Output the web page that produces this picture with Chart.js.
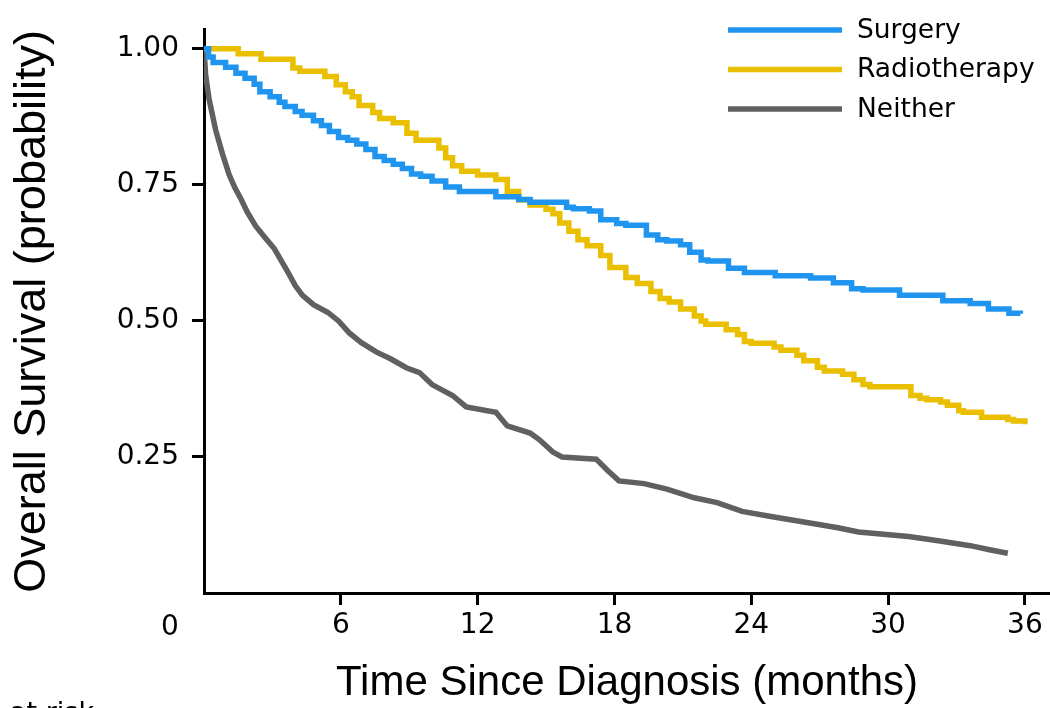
<!DOCTYPE html>
<html>
<head>
<meta charset="utf-8">
<title>Overall Survival</title>
<script src="https://cdn.jsdelivr.net/npm/chart.js@4.4.1/dist/chart.umd.min.js"></script>
<style>
  html, body { margin: 0; padding: 0; background: #fff; }
  #wrap { width: 1050px; height: 708px; }
</style>
</head>
<body>
<div id="wrap"><canvas id="kmChart" width="1050" height="708"></canvas></div>

<script>
// Kaplan-Meier curves, values (month, survival)
var surgeryMonths = [0, 0.2, 0.4, 0.95, 1.4, 1.8, 2.2, 2.45, 2.9, 3.3, 3.55, 4.0, 4.3, 4.8, 5.15, 5.5, 5.9, 6.3, 6.7, 7.1, 7.5, 7.9, 8.3, 8.7, 9.1, 9.5, 10.0, 10.6, 11.2, 12.8, 13.8, 14.3, 15.9, 16.2, 16.9, 17.4, 18.1, 18.5, 19.4, 19.9, 20.3, 20.9, 21.3, 21.8, 22.1, 23.0, 23.7, 25.05, 26.6, 27.6, 28.4, 28.9, 30.5, 32.4, 33.6, 34.4, 35.3, 35.8];
var surgerySurv   = [1.0, 0.985, 0.975, 0.966, 0.955, 0.946, 0.935, 0.921, 0.912, 0.902, 0.894, 0.885, 0.878, 0.868, 0.859, 0.848, 0.837, 0.832, 0.825, 0.815, 0.802, 0.795, 0.788, 0.78, 0.770, 0.766, 0.757, 0.746, 0.738, 0.728, 0.723, 0.718, 0.709, 0.706, 0.702, 0.686, 0.679, 0.676, 0.658, 0.649, 0.647, 0.64, 0.626, 0.612, 0.610, 0.597, 0.589, 0.583, 0.579, 0.570, 0.559, 0.557, 0.547, 0.537, 0.532, 0.522, 0.514, 0.513];

var radioMonths = [0, 1.5, 2.5, 3.9, 4.2, 5.3, 5.8, 6.2, 6.5, 6.8, 7.4, 7.7, 8.3, 8.9, 9.3, 10.3, 10.6, 10.9, 11.3, 12.0, 12.8, 13.3, 13.8, 14.3, 15.0, 15.3, 15.6, 16.0, 16.4, 16.8, 17.4, 17.8, 18.5, 19.0, 19.6, 20.0, 20.4, 20.9, 21.5, 21.8, 22.0, 22.9, 23.4, 23.7, 24.0, 25.0, 25.3, 26.0, 26.3, 26.9, 27.2, 28.0, 28.5, 28.9, 29.2, 31.0, 31.4, 31.7, 32.3, 32.6, 33.1, 33.3, 34.1, 35.25, 35.5, 36.0];
var radioSurv   = [1.0, 0.991, 0.981, 0.965, 0.959, 0.949, 0.934, 0.921, 0.912, 0.896, 0.883, 0.872, 0.864, 0.845, 0.832, 0.818, 0.800, 0.785, 0.775, 0.768, 0.760, 0.738, 0.722, 0.713, 0.705, 0.697, 0.680, 0.665, 0.649, 0.638, 0.62, 0.598, 0.58, 0.569, 0.554, 0.541, 0.535, 0.522, 0.509, 0.5, 0.494, 0.484, 0.475, 0.462, 0.459, 0.452, 0.446, 0.437, 0.427, 0.415, 0.408, 0.402, 0.392, 0.383, 0.379, 0.363, 0.358, 0.355, 0.351, 0.345, 0.335, 0.332, 0.323, 0.319, 0.316, 0.31];

var neitherMonths = [0, 0.07, 0.22, 0.51, 0.81, 1.1, 1.35, 1.61, 1.9, 2.27, 2.7, 3.08, 3.4, 3.74, 4.0, 4.32, 4.8, 5.42, 5.9, 6.37, 6.9, 7.55, 8.2, 8.87, 9.45, 10.0, 10.9, 11.5, 12.8, 13.3, 14.3, 14.7, 15.3, 15.7, 17.2, 17.7, 18.2, 19.3, 20.3, 21.5, 22.5, 23.6, 24.8, 26.5, 27.8, 28.7, 30.9, 32.2, 33.6, 34.5, 35.25];
var neitherSurv   = [1.0, 0.953, 0.908, 0.851, 0.807, 0.769, 0.745, 0.725, 0.70, 0.674, 0.652, 0.633, 0.61, 0.585, 0.565, 0.547, 0.53, 0.516, 0.50, 0.478, 0.46, 0.443, 0.43, 0.414, 0.405, 0.383, 0.363, 0.342, 0.332, 0.307, 0.294, 0.282, 0.259, 0.25, 0.246, 0.225, 0.206, 0.201, 0.191, 0.175, 0.166, 0.150, 0.141, 0.129, 0.120, 0.112, 0.104, 0.096, 0.087, 0.079, 0.073];

var seriesNames = ['Surgery', 'Radiotherapy', 'Neither'];
var xTicks = [6, 12, 18, 24, 30, 36];
var yTicks = [0.25, 0.50, 0.75, 1.00];

function toPoints(months, surv) {
  return months.map(function(m, i) { return { x: m, y: surv[i] }; });
}

// legend, origin "0" and the clipped "at risk" row
var extras = {
  id: 'extras',
  afterDraw: function(chart) {
    var ctx = chart.ctx;
    var xs = chart.scales.x;
    ctx.save();
    ctx.font = '26.5px "DejaVu Sans"';
    ctx.textBaseline = 'middle';
    ctx.textAlign = 'left';
    chart.data.datasets.forEach(function(ds, i) {
      var y = 30 + i * 39.5;
      ctx.strokeStyle = ds.borderColor;
      ctx.lineWidth = 5.5;
      ctx.beginPath();
      ctx.moveTo(728, y);
      ctx.lineTo(842, y);
      ctx.stroke();
      ctx.fillStyle = '#000';
      ctx.fillText(ds.label, 857, y + 1);
    });

    ctx.font = '28px "DejaVu Sans"';
    ctx.textAlign = 'center';
    ctx.fillText('0', xs.getPixelForValue(0) - 34, 628);

    ctx.font = '27px "DejaVu Sans"';
    ctx.textAlign = 'left';
    ctx.textBaseline = 'alphabetic';
    ctx.fillText('at risk', 10, 721);
    ctx.restore();
  }
};

var ctx = document.getElementById('kmChart').getContext('2d');
var kmChart = new Chart(ctx, {
  type: 'line',
  data: {
    datasets: [{
      label: seriesNames[0],
      data: toPoints(surgeryMonths, surgerySurv),
      borderColor: '#1f95f0'
    }, {
      label: seriesNames[1],
      data: toPoints(radioMonths, radioSurv),
      borderColor: '#e9bf00'
    }, {
      label: seriesNames[2],
      data: toPoints(neitherMonths, neitherSurv),
      borderColor: '#606060',
      stepped: false
    }]
  },
  options: {
    responsive: false,
    animation: false,
    layout: { padding: { top: 10, right: 0, left: 0, bottom: 0 } },
    elements: {
      line: { borderWidth: 5.5, stepped: true, fill: false, borderJoinStyle: 'miter' },
      point: { radius: 0, hoverRadius: 0 }
    },
    plugins: {
      legend: { display: false },
      tooltip: { enabled: false }
    },
    scales: {
      x: {
        type: 'linear',
        min: 0,
        max: 37.1,
        afterBuildTicks: function(s) { s.ticks = xTicks.map(function(v) { return { value: v }; }); },
        afterFit: function(s) { s.height = 115; },
        grid: { display: true, drawOnChartArea: false, drawTicks: true, tickLength: 12, tickWidth: 3, tickColor: '#000' },
        border: { display: true, color: '#000', width: 3 },
        ticks: { color: '#000', padding: 4, maxRotation: 0, autoSkip: false, font: { family: 'DejaVu Sans', size: 28 } },
        title: {
          display: true,
          text: 'Time Since Diagnosis (months)',
          color: '#000',
          font: { family: 'Liberation Sans', size: 42, lineHeight: 1.1 },
          padding: { top: 0, bottom: 1 }
        }
      },
      y: {
        type: 'linear',
        min: 0,
        max: 1.035,
        afterBuildTicks: function(s) { s.ticks = yTicks.map(function(v) { return { value: v }; }); },
        afterFit: function(s) { s.width = 204; },
        grid: { display: true, drawOnChartArea: false, drawTicks: true, tickLength: 12, tickWidth: 3, tickColor: '#000' },
        border: { display: true, color: '#000', width: 3 },
        ticks: {
          color: '#000',
          padding: 13,
          font: { family: 'DejaVu Sans', size: 28 },
          callback: function(v) { return Number(v).toFixed(2); }
        },
        title: {
          display: true,
          text: 'Overall Survival (probability)',
          color: '#000',
          font: { family: 'Liberation Sans', size: 45, lineHeight: 1.2 },
          padding: { top: 6, bottom: 0 }
        }
      }
    }
  },
  plugins: [extras]
});
</script>
</body>
</html>
